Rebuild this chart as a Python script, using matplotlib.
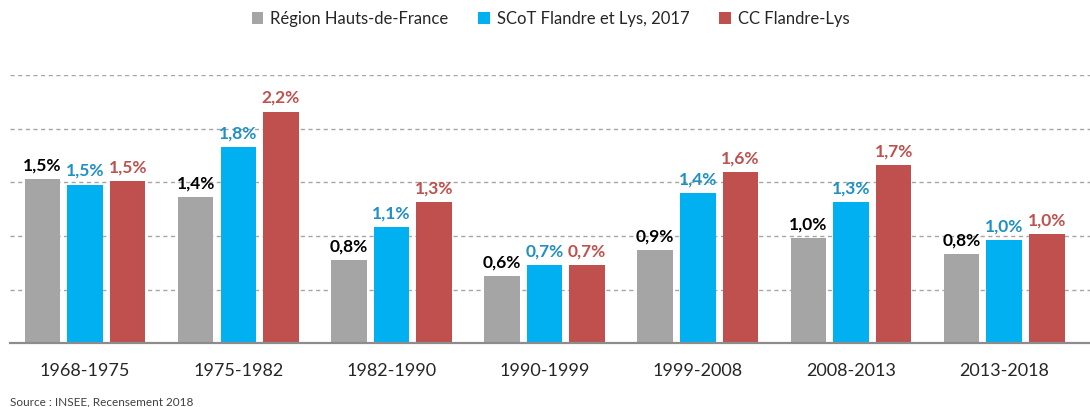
import numpy as np
import matplotlib.pyplot as plt
from matplotlib.patches import Patch

periods = ['1968-1975', '1975-1982', '1982-1990', '1990-1999', '1999-2008', '2008-2013', '2013-2018']
series = ['Région Hauts-de-France', 'SCoT Flandre et Lys, 2017', 'CC Flandre-Lys']
region = [1.53, 1.36, 0.78, 0.63, 0.87, 0.98, 0.83]
scot = [1.48, 1.83, 1.08, 0.73, 1.40, 1.32, 0.96]
cc = [1.51, 2.16, 1.32, 0.73, 1.60, 1.66, 1.02]

bar_colors = ['#a5a5a5', '#00b0f0', '#c0504d']
label_colors = ['#000000', '#1f8fc4', '#c0504d']

plt.rcParams['font.family'] = ['Lato', 'DejaVu Sans']

fig = plt.figure(figsize=(10.9, 4.07), dpi=100)
ax = fig.add_axes([0.0092, 0.1565, 0.9908, 0.659])

x = np.arange(len(periods))
pitch = 0.278
width = 0.232
for i, vals in enumerate([region, scot, cc]):
    pos = x + (i - 1) * pitch
    bars = ax.bar(pos, vals, width, color=bar_colors[i], zorder=3)
    for b, v in zip(bars, vals):
        ax.annotate(f'{v:.1f}%'.replace('.', ','), (b.get_x() + b.get_width() / 2, v),
                    xytext=(0, 4), textcoords='offset points', ha='center', va='bottom',
                    fontsize=12.5, fontweight='bold', color=label_colors[i],
                    annotation_clip=False, zorder=4)

ax.set_xlim(-0.49, 6.56)
ax.set_ylim(0, 2.5)
ax.set_yticks([0.5, 1.0, 1.5, 2.0, 2.5])
ax.yaxis.grid(True, color='#a6a6a6', linestyle=(0, (3, 2.5)), linewidth=1, zorder=0)
ax.tick_params(axis='y', length=0, labelleft=False)
ax.set_xticks(x)
ax.set_xticklabels(periods, fontsize=13, color='#262626')
ax.tick_params(axis='x', length=0, pad=14)
for s in ['top', 'right', 'left']:
    ax.spines[s].set_visible(False)
ax.spines['bottom'].set_color('#8c8c8c')
ax.spines['bottom'].set_linewidth(1.6)
ax.spines['bottom'].set_zorder(5)

handles = [Patch(facecolor=c) for c in bar_colors]
fig.legend(handles, series, loc='upper center', bbox_to_anchor=(0.505, 1.01), ncol=3,
           frameon=False, fontsize=12, handlelength=0.7, handleheight=0.7,
           handletextpad=0.4, columnspacing=1.8, labelcolor='#262626')

fig.text(0.0092, 0.004, 'Source : INSEE, Recensement 2018', fontsize=8.5, color='#404040')

fig.savefig('out.png', dpi=100)
